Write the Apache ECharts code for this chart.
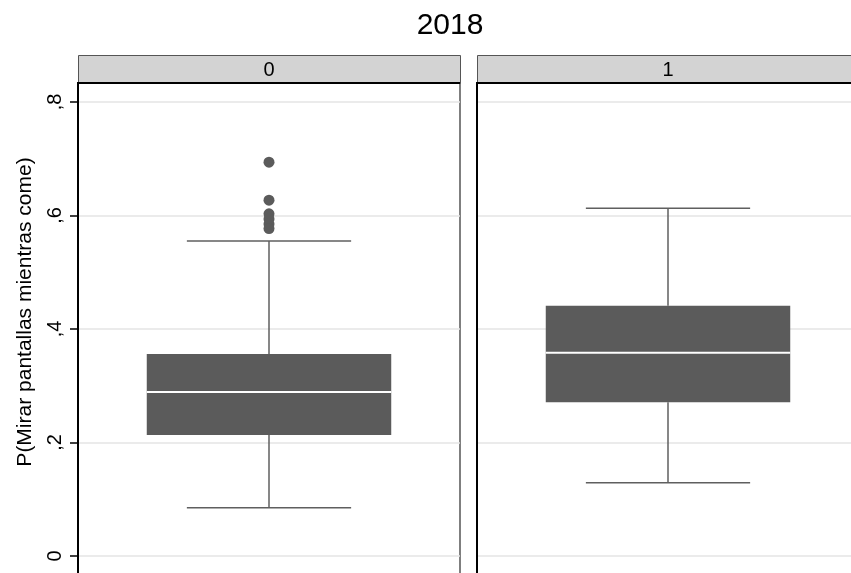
<!DOCTYPE html>
<html>
<head>
<meta charset="utf-8">
<script src="https://cdn.jsdelivr.net/npm/echarts@6/dist/echarts.min.js"></script>
<style>
  html, body { margin: 0; padding: 0; background: #fff; }
  #chart { width: 851px; height: 573px; }
</style>
</head>
<body>
<div id="chart"></div>
<script>
// Box plot summaries per group
const groups = ['0', '1'];
const lowerWhisker = [0.085, 0.129];
const lowerQuartile = [0.213, 0.271];
const median = [0.289, 0.358];
const upperQuartile = [0.356, 0.441];
const upperWhisker = [0.555, 0.613];
// Outside values for each group
const outsideValues = [
  [0.694, 0.627, 0.603, 0.594, 0.585, 0.577],
  []
];
const yTicks = [0, 0.2, 0.4, 0.6, 0.8];
const chartTitle = '2018';
const yTitle = 'P(Mirar pantallas mientras come)';

// Layout
const FONT = '"Liberation Sans", Arial, Helvetica, sans-serif';
const gridTop = 83;
const gridHeight = 500;
const panelWidth = 382;
const panelLeft = [78, 477];
const stripTop = 55;
const yMin = -0.0476;
const yMax = 0.8335;
const boxColor = '#5b5b5b';
const lineColor = '#5f5f5f';

const chart = echarts.init(document.getElementById('chart'), null, { renderer: 'canvas' });

function decimalComma(v) {
  if (v === 0) return '0';
  return ',' + String(Math.round(v * 10));
}

function renderBox(params, api) {
  const cx = api.coord([api.value(0), 0])[0];
  const band = api.size([1, 0])[0];
  const boxW = band * 0.64;
  const capW = band * 0.43;
  const yLo = api.coord([0, api.value(1)])[1];
  const yQ1 = api.coord([0, api.value(2)])[1];
  const yMed = api.coord([0, api.value(3)])[1];
  const yQ3 = api.coord([0, api.value(4)])[1];
  const yHi = api.coord([0, api.value(5)])[1];
  const ls = { stroke: lineColor, lineWidth: 1.5 };
  return {
    type: 'group',
    children: [
      { type: 'line', shape: { x1: cx, y1: yLo, x2: cx, y2: yQ1 }, style: ls },
      { type: 'line', shape: { x1: cx, y1: yQ3, x2: cx, y2: yHi }, style: ls },
      { type: 'line', shape: { x1: cx - capW / 2, y1: yLo, x2: cx + capW / 2, y2: yLo }, style: ls },
      { type: 'line', shape: { x1: cx - capW / 2, y1: yHi, x2: cx + capW / 2, y2: yHi }, style: ls },
      { type: 'rect', shape: { x: cx - boxW / 2, y: yQ3, width: boxW, height: yQ1 - yQ3 }, style: { fill: boxColor } },
      { type: 'line', shape: { x1: cx - boxW / 2, y1: yMed, x2: cx + boxW / 2, y2: yMed }, style: { stroke: '#ffffff', lineWidth: 2 } }
    ]
  };
}

const grids = [], xAxes = [], yAxes = [], series = [], graphics = [];

groups.forEach((g, i) => {
  grids.push({
    left: panelLeft[i], top: gridTop, width: panelWidth, height: gridHeight,
    outerBoundsMode: 'none', containLabel: false,
    show: true, borderColor: '#555555', borderWidth: 1.5, backgroundColor: 'transparent'
  });
  xAxes.push({
    gridIndex: i, type: 'category', data: [g],
    axisLine: { show: false }, axisTick: { show: false }, axisLabel: { show: false }, splitLine: { show: false }
  });
  yAxes.push({
    gridIndex: i, type: 'value', min: yMin, max: yMax,
    axisLine: { show: true, lineStyle: { color: '#000000', width: 2 } },
    axisTick: { show: i === 0, length: 8, customValues: yTicks, lineStyle: { color: '#000000', width: 1.5 } },
    axisLabel: {
      show: i === 0, customValues: yTicks, rotate: 90, margin: 13,
      fontFamily: FONT, fontSize: 20, color: '#000000', formatter: decimalComma
    },
    splitLine: { show: true, lineStyle: { color: '#e4e4e4', width: 1.5 } }
  });
  series.push({
    type: 'custom', xAxisIndex: i, yAxisIndex: i, renderItem: renderBox,
    data: [[0, lowerWhisker[i], lowerQuartile[i], median[i], upperQuartile[i], upperWhisker[i]]],
    z: 3
  });
  if (outsideValues[i].length) {
    series.push({
      type: 'scatter', xAxisIndex: i, yAxisIndex: i, symbol: 'circle', symbolSize: 11,
      itemStyle: { color: boxColor, opacity: 1 },
      data: outsideValues[i].map(v => [0, v]), z: 4
    });
  }
  // Panel header strip
  graphics.push({
    type: 'rect', left: panelLeft[i], top: stripTop, z: 10,
    shape: { width: panelWidth, height: gridTop - stripTop },
    style: { fill: '#d3d3d3', stroke: '#555555', lineWidth: 1 }
  });
  graphics.push({
    type: 'line', z: 11,
    shape: { x1: panelLeft[i] - 1, y1: gridTop, x2: panelLeft[i] + panelWidth, y2: gridTop },
    style: { stroke: '#000000', lineWidth: 2 }
  });
  graphics.push({
    type: 'text', z: 12, x: panelLeft[i] + panelWidth / 2, y: (stripTop + gridTop) / 2 + 1,
    style: { text: g, textAlign: 'center', textVerticalAlign: 'middle', font: '20px ' + FONT, fill: '#000000' }
  });
});

graphics.push({
  type: 'text', z: 12, x: 450, y: 26,
  style: { text: chartTitle, textAlign: 'center', textVerticalAlign: 'middle', font: '30px ' + FONT, fill: '#000000' }
});
graphics.push({
  type: 'text', z: 12, x: 25, y: 312, rotation: Math.PI / 2,
  style: { text: yTitle, textAlign: 'center', textVerticalAlign: 'middle', font: '21px ' + FONT, fill: '#000000' }
});

chart.setOption({
  animation: false,
  backgroundColor: '#ffffff',
  grid: grids,
  xAxis: xAxes,
  yAxis: yAxes,
  series: series,
  graphic: graphics
});
</script>
</body>
</html>
